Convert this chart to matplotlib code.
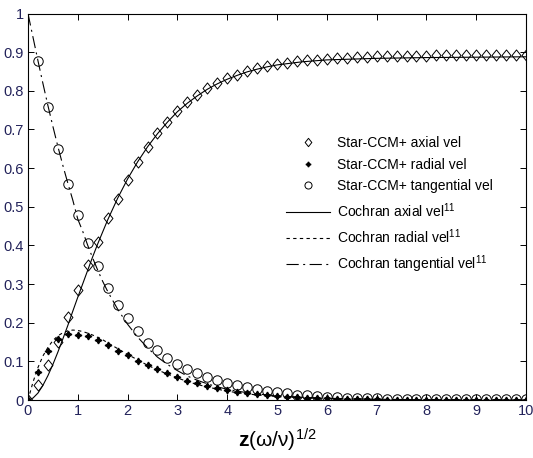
import numpy as np
import matplotlib
matplotlib.use('Agg')
import matplotlib.pyplot as plt
from matplotlib.path import Path

plt.rcParams['font.family'] = ['Liberation Sans', 'DejaVu Sans']
plt.rcParams['mathtext.fontset'] = 'custom'
plt.rcParams['mathtext.rm'] = 'Liberation Sans'
plt.rcParams['mathtext.it'] = 'Liberation Sans:italic'
plt.rcParams['mathtext.bf'] = 'Liberation Sans:bold'

# Star-CCM+ results, z = 0, 0.2, ..., 10
z_sim = np.round(np.arange(0, 10.01, 0.2), 1)
axial_sim = [0, 0.04, 0.09, 0.15, 0.215, 0.285, 0.35, 0.41, 0.47, 0.52,
             0.57, 0.615, 0.655, 0.69, 0.72, 0.748, 0.77, 0.79, 0.807, 0.82,
             0.832, 0.842, 0.851, 0.858, 0.864, 0.869, 0.873, 0.876, 0.879, 0.881,
             0.883, 0.885, 0.886, 0.887, 0.888, 0.889, 0.89, 0.89, 0.891, 0.891,
             0.891, 0.892, 0.892, 0.892, 0.892, 0.893, 0.893, 0.893, 0.893, 0.893, 0.893]
radial_sim = [0, 0.073, 0.128, 0.158, 0.17, 0.169, 0.166, 0.155, 0.142, 0.128,
              0.116, 0.101, 0.09, 0.08, 0.069, 0.059, 0.05, 0.045, 0.037, 0.031,
              0.026, 0.022, 0.018, 0.015, 0.012, 0.01, 0.008, 0.007, 0.005, 0.004,
              0.004, 0.003, 0.003, 0.002, 0.002, 0.002, 0.001, 0.001, 0.001, 0.001,
              0.001, 0.001, 0.001, 0.001, 0.001, 0.001, 0.001, 0.001, 0.001, 0.001, 0.001]
tang_sim = [np.nan, 0.877, 0.757, 0.65, 0.559, 0.478, 0.405, 0.347, 0.291, 0.247,
            0.213, 0.179, 0.148, 0.129, 0.11, 0.093, 0.079, 0.069, 0.06, 0.052,
            0.045, 0.039, 0.033, 0.028, 0.024, 0.02, 0.017, 0.014, 0.012, 0.01,
            0.008, 0.007, 0.006, 0.005, 0.004, 0.004, 0.003, 0.003, 0.003, 0.003,
            0.003, 0.003, 0.003, 0.003, 0.003, 0.003, 0.003, 0.003, 0.003, 0.003, 0.003]

# Cochran solution
z_c = [0, 0.1, 0.2, 0.3, 0.4, 0.5, 0.6, 0.7, 0.8, 0.9, 1.0, 1.1, 1.2, 1.3, 1.4, 1.5,
       1.6, 1.8, 2.0, 2.2, 2.4, 2.6, 2.8, 3.0, 3.2, 3.4, 3.6, 3.8, 4.0, 4.2, 4.4,
       4.6, 4.8, 5.0, 5.5, 6.0, 7.0, 8.0, 9.0, 10.0]
axial_c = [0, 0.005, 0.018, 0.038, 0.063, 0.092, 0.124, 0.158, 0.193, 0.230, 0.266,
           0.301, 0.336, 0.371, 0.404, 0.435, 0.466, 0.522, 0.572, 0.616, 0.655,
           0.689, 0.719, 0.746, 0.768, 0.787, 0.804, 0.818, 0.830, 0.840, 0.849,
           0.856, 0.862, 0.867, 0.875, 0.880, 0.884, 0.886, 0.887, 0.888]
radial_c = [0, 0.046, 0.084, 0.114, 0.136, 0.154, 0.166, 0.174, 0.179, 0.181, 0.180,
            0.177, 0.173, 0.168, 0.162, 0.156, 0.148, 0.133, 0.118, 0.104, 0.090,
            0.078, 0.067, 0.057, 0.048, 0.040, 0.034, 0.028, 0.023, 0.019, 0.016,
            0.013, 0.011, 0.009, 0.006, 0.004, 0.0015, 0.0006, 0.0003, 0.0001]
tang_c = [1.0, 0.939, 0.878, 0.819, 0.762, 0.708, 0.656, 0.607, 0.561, 0.517, 0.468,
          0.436, 0.400, 0.367, 0.336, 0.307, 0.281, 0.235, 0.196, 0.163, 0.135,
          0.111, 0.092, 0.076, 0.062, 0.051, 0.042, 0.034, 0.028, 0.023, 0.019,
          0.016, 0.013, 0.011, 0.007, 0.0045, 0.0019, 0.0008, 0.0003, 0.0001]

fig = plt.figure(figsize=(5.33, 4.58), dpi=100)
ax = fig.add_axes([0.0525, 0.1266, 0.9345, 0.8439])

# matlab-like diamond, a bit wider than matplotlib's thin diamond
diamond = Path([(0, 1), (0.8, 0), (0, -1), (-0.8, 0), (0, 1)],
               [Path.MOVETO, Path.LINETO, Path.LINETO, Path.LINETO, Path.CLOSEPOLY])
star4 = (4, 1, 0)

ax.plot(z_sim, axial_sim, marker=diamond, ls='none', ms=8, mfc='none', mec='black',
        mew=0.7, label='Star-CCM+ axial vel')
ax.plot(z_sim, radial_sim, marker=star4, ls='none', ms=4.8, color='black',
        label='Star-CCM+ radial vel')
ax.plot(z_sim, tang_sim, 'o', ms=6.8, mfc='none', mec='black', mew=0.7,
        label='Star-CCM+ tangential vel')
ax.plot(z_c, axial_c, '-', color='black', lw=0.8, label='Cochran axial vel$^{11}$')
ax.plot(z_c, radial_c, color='black', lw=0.8, dashes=(3, 3),
        label='Cochran radial vel$^{11}$')
ax.plot(z_c, tang_c, color='black', lw=0.8, dashes=(11, 4, 1.8, 4),
        label='Cochran tangential vel$^{11}$')

ax.set_xlim(0, 10)
ax.set_ylim(0, 1)
ax.set_xticks(range(11))
ax.set_yticks(np.round(np.arange(0, 1.01, 0.1), 1))
ax.set_yticklabels(['0', '0.1', '0.2', '0.3', '0.4', '0.5', '0.6', '0.7', '0.8', '0.9', '1'])
ax.tick_params(direction='in', length=4, width=0.7, top=True, right=True,
               labelsize=10.5, labelcolor='#22225a', pad=3)
for s in ax.spines.values():
    s.set_linewidth(0.8)

ax.set_xlabel(r'$\mathbf{z}$(ω/ν)$^{1/2}$', fontsize=15, labelpad=6)

ax.legend(loc='upper left', bbox_to_anchor=(286 / 533, 1 - 136 / 458),
          bbox_transform=fig.transFigure, frameon=False, fontsize=10,
          handlelength=3.2, handletextpad=0.5, borderpad=0, borderaxespad=0,
          labelspacing=0.55, markerscale=0.75)

fig.savefig('out.png', dpi=100)
